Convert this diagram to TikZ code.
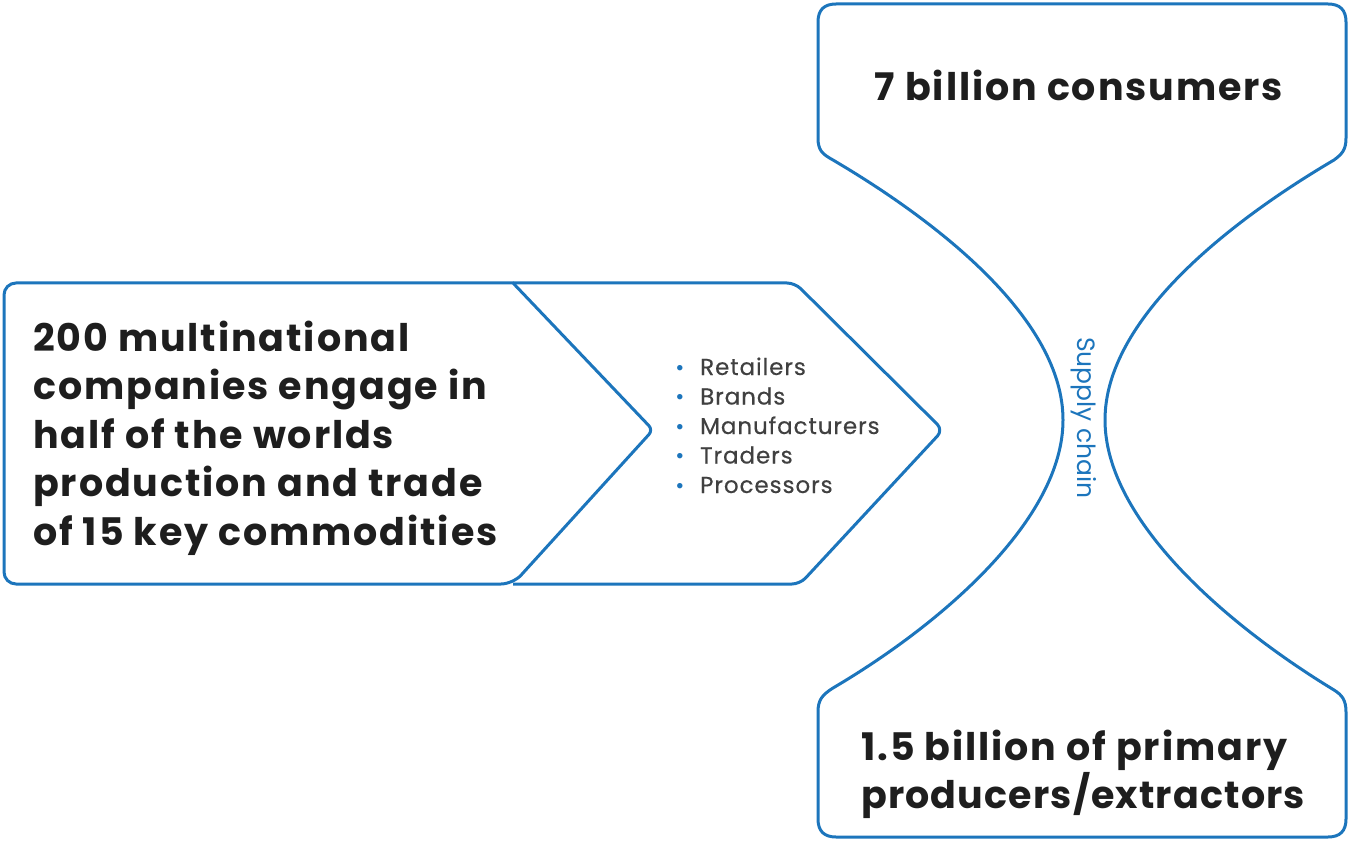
\documentclass[tikz,border=0pt]{standalone}
\usepackage{fontspec}
\setmainfont{Poppins}
\newfontfamily\headfont[LetterSpace=5.0]{Poppins}
\newfontfamily\headfontb[LetterSpace=3.0]{Poppins}
\newfontfamily\itemfont[LetterSpace=4.0, FakeBold=0.4]{Poppins}
\definecolor{hgblue}{RGB}{28,117,188}
\definecolor{ink}{RGB}{30,30,30}
\begin{document}
\begin{tikzpicture}[x=1pt,y=-1pt, line join=round,
  outline/.style={draw=hgblue, line width=3pt},
  big/.style={font=\fontsize{38}{44}\headfont\bfseries, text=ink, inner sep=0pt},
  bigb/.style={font=\fontsize{38}{44}\headfontb\bfseries, text=ink, inner sep=0pt},
  item/.style={font=\fontsize{23}{27}\itemfont, text=ink!85, inner sep=0pt, anchor=base west},
  dot/.style={font=\fontsize{22}{26}\selectfont, text=hgblue, inner sep=0pt, anchor=base},
  vlabel/.style={font=\fontsize{25}{29}\selectfont, text=hgblue, inner sep=0pt, rotate=-90},
]
\useasboundingbox (0,0) rectangle (1349,842);

% left chevron
\draw[outline, rounded corners=12pt] (513,283) -- (4,283) -- (4,584) -- (513,584) [rounded corners=6pt] -- (653,430) [sharp corners] -- cycle;
% second chevron
\draw[outline, rounded corners=8pt] (513,283) -- (795,283) -- (943,430) -- (800,584) [sharp corners] -- (513,584);

% hourglass
\draw[outline]
 (833,160) .. controls (822,154) and (818,150) .. (818,138)
 -- (818,22) .. controls (818,10) and (824,4) .. (836,4)
 -- (1328,4) .. controls (1340,4) and (1346,10) .. (1346,22)
 -- (1346,138) .. controls (1346,150) and (1342,154) .. (1334,160)
 .. controls (1227,223) and (1105,320) .. (1105,420)
 .. controls (1105,520) and (1227,625) .. (1334,690)
 .. controls (1342,695) and (1346,700) .. (1346,712)
 -- (1346,819) .. controls (1346,831) and (1340,837) .. (1328,837)
 -- (836,837) .. controls (824,837) and (818,831) .. (818,819)
 -- (818,712) .. controls (818,700) and (822,695) .. (833,688)
 .. controls (940,625) and (1063,520) .. (1063,420)
 .. controls (1063,320) and (940,223) .. (833,160) -- cycle;

% left text
\node[big, anchor=base west] (l1) at (33,351) {200 multinational};
\node[big, anchor=base west] (l2) at (33,399.5) {companies engage in};
\node[big, anchor=base west] (l3) at (33,448) {half of the worlds};
\node[big, anchor=base west] (l4) at (33,496.5) {production and trade};
\node[big, anchor=base west] (l5) at (33,545) {of 15 key commodities};

% bullets
\foreach \t [count=\i] in {Retailers,Brands,Manufacturers,Traders,Processors}{
  \node[dot] (d\i) at (680,{375+29.5*(\i-1)}) {•};
  \node[item] (b\i) at (700,{375+29.5*(\i-1)}) {\t};
}

% top and bottom
\node[big, anchor=base] (top) at (1079,101) {7 billion consumers};
\node[big, anchor=base west] (bot1) at (861,760) {1.5 billion of primary};
\node[bigb, anchor=base west] (bot2) at (861,808) {producers/extractors};

\node[vlabel] (sc) at (1084,418) {Supply chain};
\end{tikzpicture}
\end{document}
